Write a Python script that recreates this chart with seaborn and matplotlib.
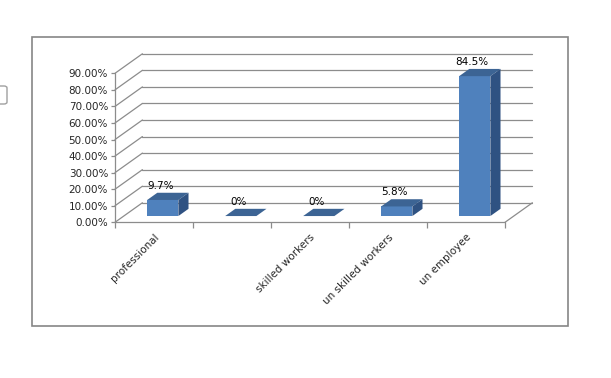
import matplotlib
matplotlib.use("Agg")
import matplotlib.pyplot as plt
import matplotlib.transforms as mtransforms
from matplotlib.patches import Polygon, Rectangle, FancyBboxPatch
import seaborn as sns
import pandas as pd

categories = ["professional", "", "skilled workers", "un skilled workers", "un employee"]
values = [9.7, 0.0, 0.0, 5.8, 84.5]
value_labels = ["9.7%", "0%", "0%", "5.8%", "84.5%"]
y_ticks = [0, 10, 20, 30, 40, 50, 60, 70, 80, 90]
y_tick_labels = ["0.00%", "10.00%", "20.00%", "30.00%", "40.00%", "50.00%",
                 "60.00%", "70.00%", "80.00%", "90.00%"]

W, H = 611, 378
sns.set_style("white")
plt.rcParams["font.family"] = ["DejaVu Sans"]

fig = plt.figure(figsize=(W / 100, H / 100), dpi=100)

# 3D depth of the "box" in data units
DX = 27.4 / 78.0      # categories
DY = 11.8             # percent
front_x0_px, px_per_cat = 115.0, 78.0
y0_px, px_per_pct = 222.3, 149.0 / 90.0

left = front_x0_px / W
width = (5 + DX) * px_per_cat / W
bottom = (H - y0_px) / H
height = (90 + DY) * px_per_pct / H
ax = fig.add_axes([left, bottom, width, height])

df = pd.DataFrame({"cat": categories, "val": values})
df["pos"] = range(len(df))
sns.barplot(data=df, x="pos", y="val", width=0.4, color="#4F81BD",
            saturation=1, ax=ax, linewidth=0, order=list(range(len(df))))

ax.set_xlim(-0.5, 4.5 + DX)
ax.set_ylim(0, 90 + DY)
for s in ax.spines.values():
    s.set_visible(False)

grid_c = "#8c8c8c"
# back wall + side wall grid lines
for v in y_ticks:
    ax.plot([-0.5 + DX, 4.5 + DX], [v + DY, v + DY], color=grid_c, lw=0.9,
            clip_on=False, zorder=0.5)
    ax.plot([-0.5, -0.5 + DX], [v, v + DY], color=grid_c, lw=0.9,
            clip_on=False, zorder=0.5)
# floor
ax.plot([-0.5, 4.5], [0, 0], color=grid_c, lw=0.9, clip_on=False, zorder=0.5)
ax.plot([4.5, 4.5 + DX], [0, DY], color=grid_c, lw=0.9, clip_on=False, zorder=0.5)
# front vertical axis
ax.plot([-0.5, -0.5], [0, 90], color=grid_c, lw=0.9, clip_on=False, zorder=0.5)

# bars: front face pushed into depth, plus top and side faces
d_front = 0.32
d_back = 0.69
fdx, fdy = d_front * DX, d_front * DY
bdx, bdy = (d_back - d_front) * DX, (d_back - d_front) * DY
shift = mtransforms.Affine2D().translate(fdx, fdy) + ax.transData
top_c, side_c = "#3C6494", "#2F5282"
for p in list(ax.patches):
    x = p.get_x()
    w = p.get_width()
    h = p.get_height()
    p.set_transform(shift)
    p.set_zorder(2)
    xl, xr, yt = x + fdx, x + w + fdx, h + fdy
    top = Polygon([(xl, yt), (xr, yt), (xr + bdx, yt + bdy), (xl + bdx, yt + bdy)],
                  closed=True, facecolor=top_c, edgecolor="none", zorder=2.1,
                  clip_on=False)
    ax.add_patch(top)
    if h > 0:
        side = Polygon([(xr, fdy), (xr + bdx, fdy + bdy), (xr + bdx, yt + bdy), (xr, yt)],
                       closed=True, facecolor=side_c, edgecolor="none", zorder=2.1,
                       clip_on=False)
        ax.add_patch(side)

# data labels
for i, (v, lab) in enumerate(zip(values, value_labels)):
    ax.annotate(lab, (i + 0.08, v + d_back * DY), xytext=(0, 1.5),
                textcoords="offset points", ha="center", va="bottom",
                fontsize=7.5, color="black", annotation_clip=False, zorder=3)

# ticks
ax.set_yticks(y_ticks)
ax.set_yticklabels(y_tick_labels, fontsize=7.5)
ax.tick_params(axis="y", length=3, width=0.9, color=grid_c, pad=2, left=True)
ax.set_xticks(range(len(categories)))
ax.set_xticklabels(categories, rotation=45, ha="right", va="top",
                   rotation_mode="anchor", fontsize=7.5)
lab_shift = mtransforms.ScaledTranslation(-5 / 100, 0, fig.dpi_scale_trans)
for t in ax.get_xticklabels():
    t.set_transform(t.get_transform() + lab_shift)
ax.set_xticks([i - 0.5 for i in range(len(categories) + 1)], minor=True)
ax.tick_params(axis="x", which="major", length=0, pad=7)
ax.tick_params(axis="x", which="minor", length=4, width=0.9, color=grid_c,
               bottom=True)
ax.set_xlabel("")
ax.set_ylabel("")
ax.set_facecolor("none")

# outer chart border
fig.patches.append(Rectangle((32.3 / W, 1 - 326 / H), (568.3 - 32.3) / W,
                             (326 - 36.7) / H, transform=fig.transFigure,
                             fill=False, edgecolor="#868686", lw=1.2))
# small partial icon at left edge
fig.patches.append(FancyBboxPatch((-6 / W, 1 - 104 / H), 13 / W, 18 / H,
                                  boxstyle="round,pad=0,rounding_size=0.005",
                                  transform=fig.transFigure, fill=False,
                                  edgecolor="#a0a0a0", lw=1.0))

fig.savefig("out.png", dpi=100)
